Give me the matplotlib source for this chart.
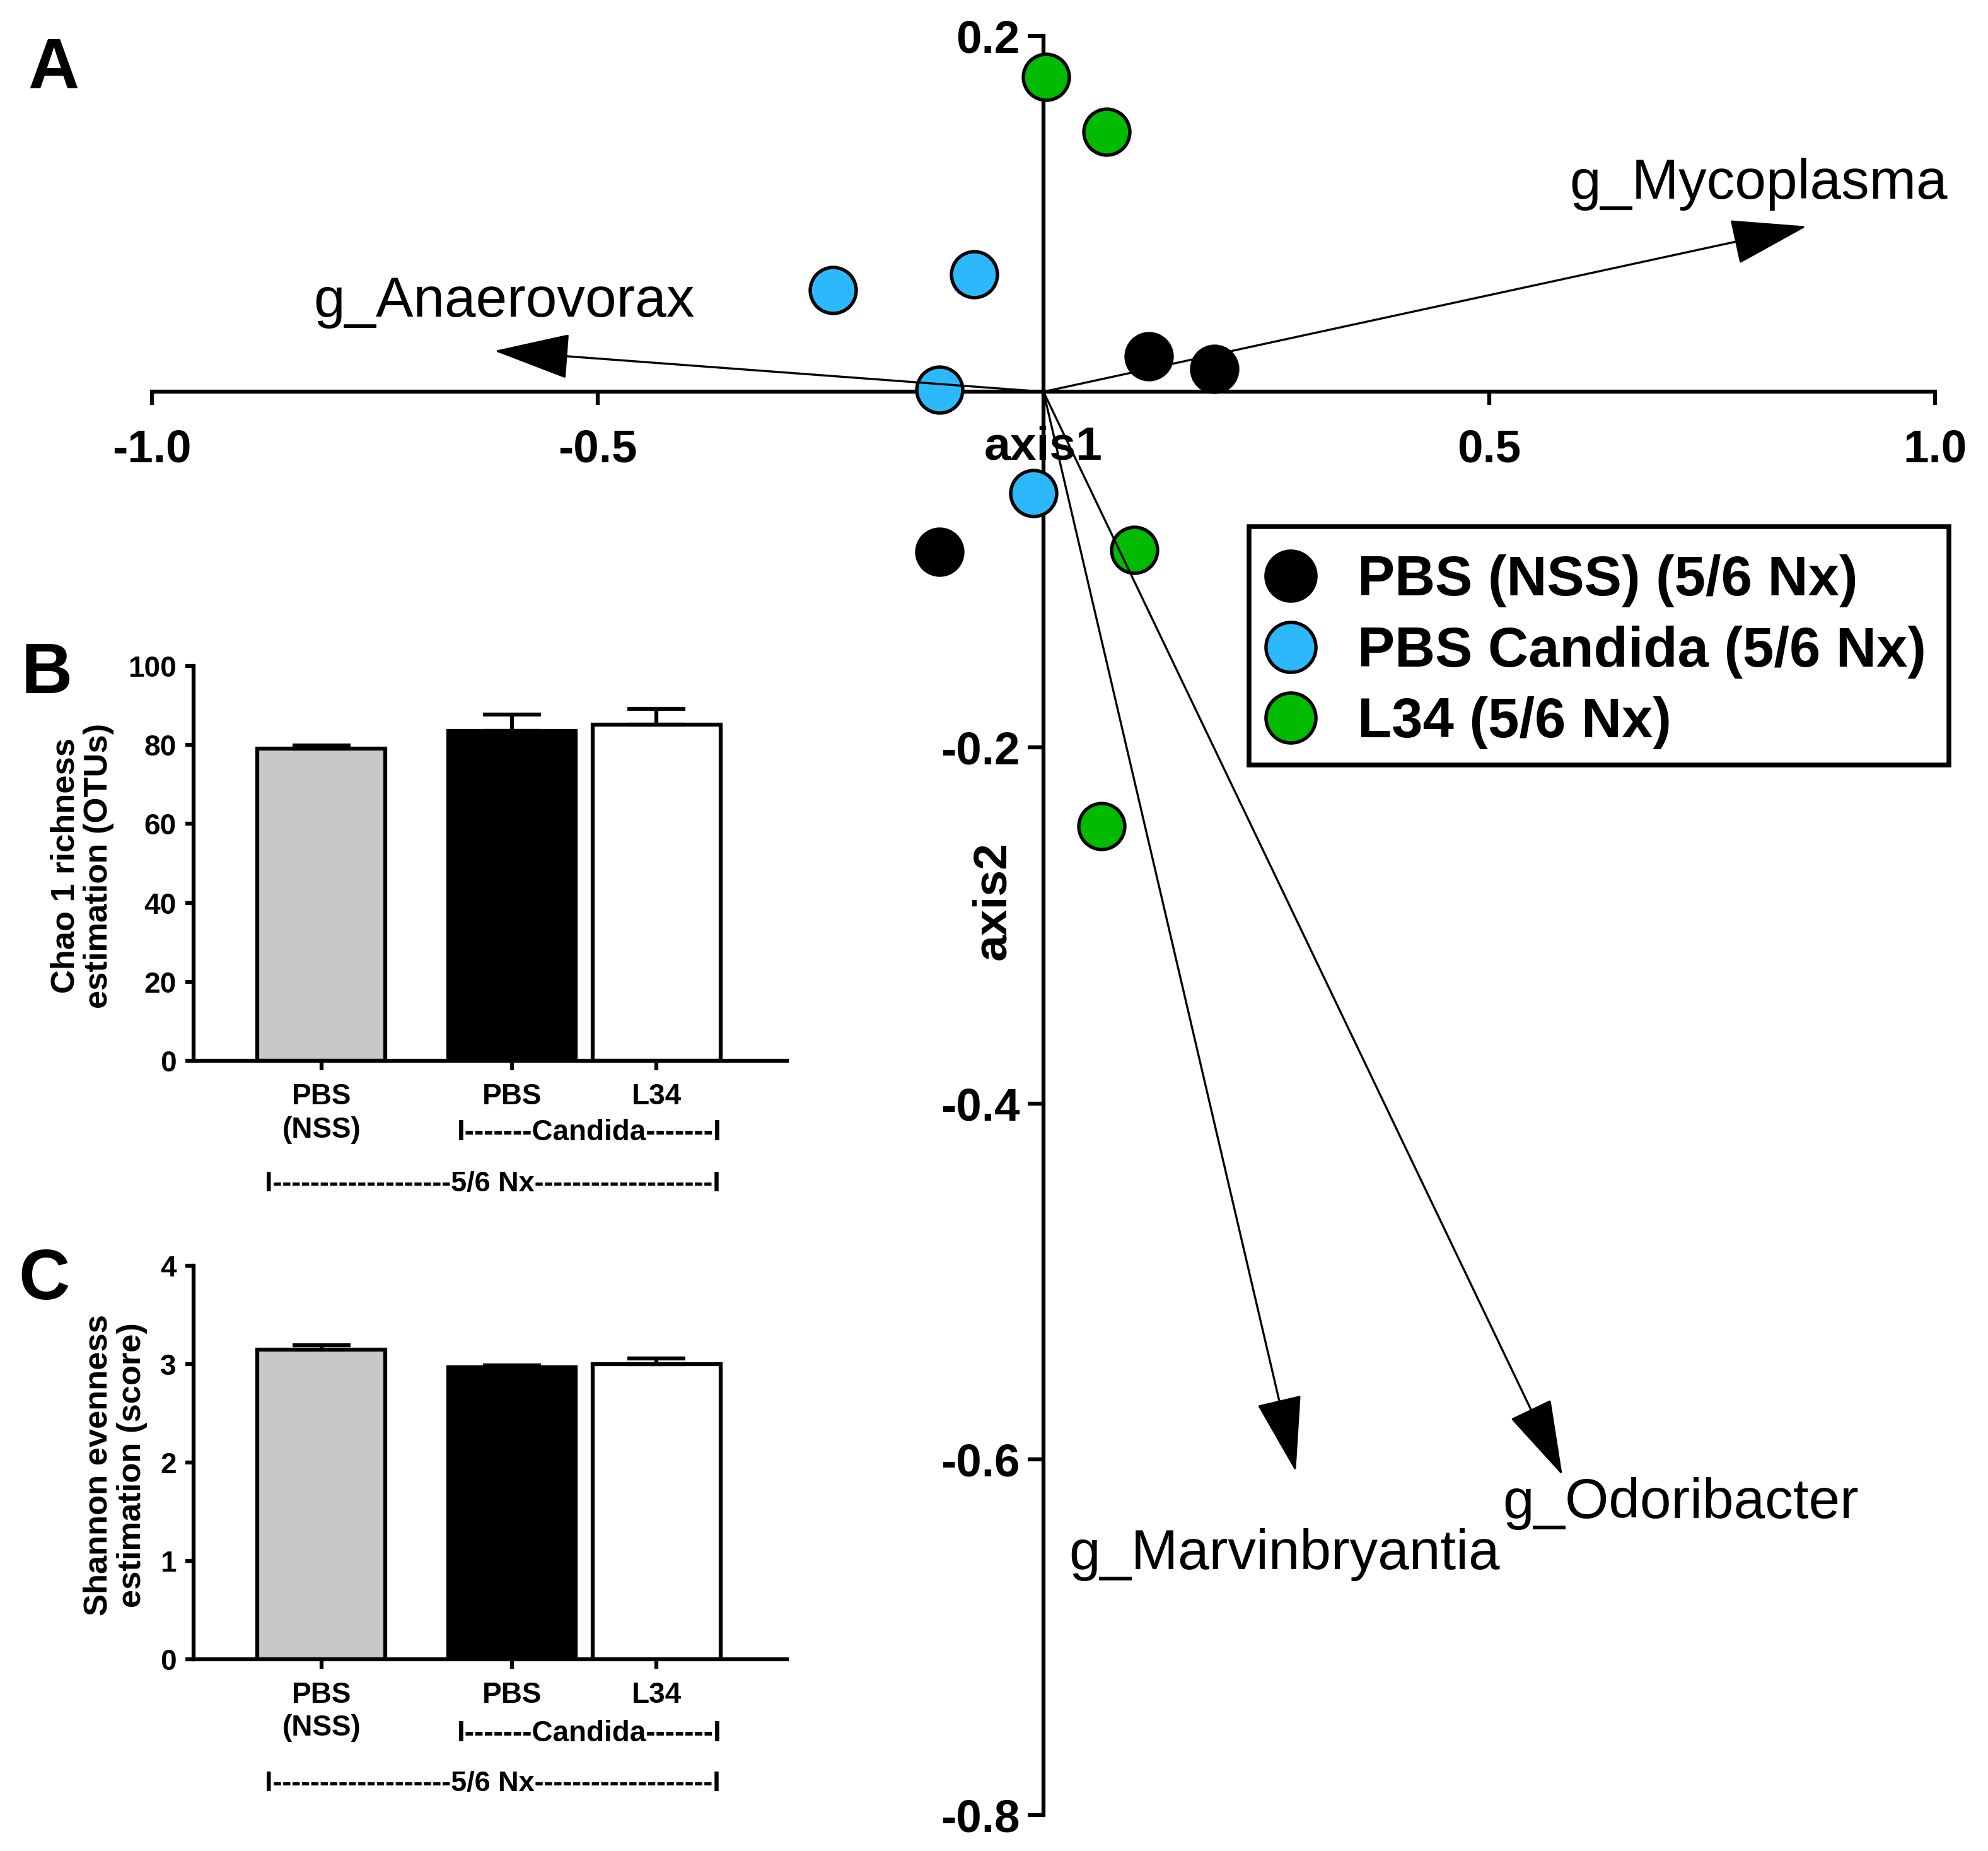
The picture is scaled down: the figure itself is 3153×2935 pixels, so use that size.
import numpy as np
import matplotlib
matplotlib.use("Agg")
import matplotlib.pyplot as plt
from matplotlib.lines import Line2D
from matplotlib.patches import Rectangle

plt.rcParams['font.family'] = ['Liberation Sans', 'DejaVu Sans']
plt.rcParams['axes.unicode_minus'] = False

# ---- panel A data (PCoA scores + loading arrows) ----
groups = ['PBS (NSS) (5/6 Nx)', 'PBS Candida (5/6 Nx)', 'L34 (5/6 Nx)']
group_colors = ['#000000', '#2CB9FC', '#00BB00']
nss_x = [0.118, 0.192, -0.117]
nss_y = [0.020, 0.013, -0.090]
cand_x = [-0.236, -0.078, -0.117, -0.011]
cand_y = [0.057, 0.066, 0.001, -0.057]
l34_x = [0.003, 0.071, 0.102, 0.065]
l34_y = [0.177, 0.146, -0.089, -0.244]

genera = ['g_Mycoplasma', 'g_Anaerovorax', 'g_Marvinbryantia', 'g_Odoribacter']
arrow_x = [0.856, -0.616, 0.283, 0.582]
arrow_y = [0.093, 0.023, -0.607, -0.609]
label_x = [0.590, -0.819, 0.0285, 0.515]
label_y = [0.1166, 0.0503, -0.6537, -0.625]

# ---- panels B / C data ----
bar_labels = ['PBS\n(NSS)', 'PBS', 'L34']
bar_colors = ['#C8C8C8', '#000000', '#FFFFFF']
chao1_mean = [79.0, 83.6, 85.1]
chao1_sem = [0.9, 4.1, 4.0]
shannon_mean = [3.15, 2.97, 3.00]
shannon_sem = [0.04, 0.02, 0.06]

fig = plt.figure(figsize=(3153 / 300, 2935 / 300), dpi=300)

# ================= panel A =================
axA = fig.add_axes([241 / 3153, 57 / 2935, (3069 - 241) / 3153, (2878 - 57) / 2935])
axA.patch.set_visible(False)
axA.set_xlim(-1, 1)
axA.set_ylim(-0.8, 0.2)
for s in ['top', 'right']:
    axA.spines[s].set_visible(False)
axA.spines['left'].set_position(('data', 0))
axA.spines['bottom'].set_position(('data', 0))
for s in ['left', 'bottom']:
    axA.spines[s].set_linewidth(1.5)
axA.set_xticks([-1.0, -0.5, 0.5, 1.0])
axA.set_xticklabels(['-1.0', '-0.5', '0.5', '1.0'])
axA.set_yticks([0.2, -0.2, -0.4, -0.6, -0.8])
axA.set_yticklabels(['0.2', '-0.2', '-0.4', '-0.6', '-0.8'])
axA.tick_params(axis='x', direction='out', length=5, width=1.5, pad=9, labelsize=17.5)
axA.tick_params(axis='y', direction='out', length=6, width=1.5, pad=3, labelsize=17.5)
for t in axA.get_xticklabels() + axA.get_yticklabels():
    t.set_fontweight('bold')

ms = 17.5
axA.plot(nss_x, nss_y, 'o', ms=ms, mfc=group_colors[0], mec='black', mew=1.3, zorder=3, clip_on=False)
axA.plot(cand_x, cand_y, 'o', ms=ms, mfc=group_colors[1], mec='black', mew=1.3, zorder=3, clip_on=False)
axA.plot(l34_x, l34_y, 'o', ms=ms, mfc=group_colors[2], mec='black', mew=1.3, zorder=3, clip_on=False)

for gx, gy, lx, ly, name in zip(arrow_x, arrow_y, label_x, label_y, genera):
    axA.annotate('', xy=(gx, gy), xytext=(0, 0),
                 arrowprops=dict(arrowstyle='-|>,head_length=2.6,head_width=0.78',
                                 color='black', lw=0.8, shrinkA=0, shrinkB=0,
                                 mutation_scale=10),
                 zorder=4)
    axA.text(lx, ly, name, ha='left', va='center', fontsize=21.4)

axA.text(0, -0.031, 'axis1', ha='center', va='center', fontsize=18, fontweight='bold')
axA.text(-0.057, -0.286, 'axis2', ha='center', va='center', fontsize=18,
         fontweight='bold', rotation=90)

# legend: entries without frame, box drawn separately
handles = [Line2D([], [], ls='none', marker='o', ms=19, mfc=c, mec='black', mew=1.3)
           for c in group_colors]
fig.legend(handles, groups, loc='upper left', bbox_to_anchor=(0.628, 0.7155),
           bbox_transform=fig.transFigure, prop=dict(weight='bold', size=21.3),
           frameon=False, borderaxespad=0, borderpad=0.5, handlelength=0.5,
           handletextpad=0.95, labelspacing=0.32)
fig.add_artist(Rectangle((1981 / 3153, 1 - 1213 / 2935), (3091 - 1981) / 3153, (1213 - 835) / 2935,
                         transform=fig.transFigure, fill=False, edgecolor='black', linewidth=1.8))

# ================= panels B and C =================
bar_pos = [1.0, 2.49, 3.62]


def bar_panel(rect, means, sems, ylim, yticks, ylabel, ylab_x, cand_y, nx_y):
    ax = fig.add_axes(rect)
    ax.bar(bar_pos, means, width=1.0, color=bar_colors, edgecolor='black', linewidth=1.5, zorder=2)
    ax.errorbar(bar_pos, means, yerr=[np.zeros(len(means)), sems], fmt='none',
                ecolor='black', elinewidth=1.5, capsize=11, capthick=1.5, zorder=3)
    ax.set_xlim(0, 4.64)
    ax.set_ylim(*ylim)
    ax.set_yticks(yticks)
    ax.set_xticks(bar_pos)
    ax.set_xticklabels(bar_labels, linespacing=1.25)
    for s in ['top', 'right']:
        ax.spines[s].set_visible(False)
    for s in ['left', 'bottom']:
        ax.spines[s].set_linewidth(1.5)
    ax.tick_params(axis='x', direction='out', length=3.5, width=1.5, labelsize=11, pad=4.9)
    ax.tick_params(axis='y', direction='out', length=3.2, width=1.5, labelsize=11, pad=3.3)
    for t in ax.get_xticklabels() + ax.get_yticklabels():
        t.set_fontweight('bold')
    ax.text(ylab_x, 0.494, ylabel, transform=ax.transAxes, rotation=90, ha='center',
            va='center', fontsize=12.6, fontweight='bold', linespacing=1.1)
    ax.text(0.667, cand_y, 'I-------Candida-------I', transform=ax.transAxes,
            ha='center', va='center', fontsize=11, fontweight='bold')
    ax.text(0.504, nx_y, 'I' + '-' * 19 + '5/6 Nx' + '-' * 19 + 'I', transform=ax.transAxes,
            ha='center', va='center', fontsize=10.8, fontweight='bold')
    return ax


bar_panel([307 / 3153, 1 - 1682 / 2935, 941 / 3153, 626 / 2935], chao1_mean, chao1_sem,
          (0, 100), [0, 20, 40, 60, 80, 100], 'Chao 1 richness\nestimation (OTUs)',
          -0.188, -0.182, -0.313)
bar_panel([307 / 3153, 1 - 2631 / 2935, 941 / 3153, 624 / 2935], shannon_mean, shannon_sem,
          (0, 4), [0, 1, 2, 3, 4], 'Shannon evenness\nestimation (score)',
          -0.132, -0.189, -0.316)

# panel letters
fig.text(0.0268, 0.9623, 'A', ha='center', va='center', fontsize=27, fontweight='bold')
fig.text(0.0236, 0.6355, 'B', ha='center', va='center', fontsize=27, fontweight='bold')
fig.text(0.0223, 0.3080, 'C', ha='center', va='center', fontsize=27, fontweight='bold')

fig.savefig('out.png', dpi=300)
